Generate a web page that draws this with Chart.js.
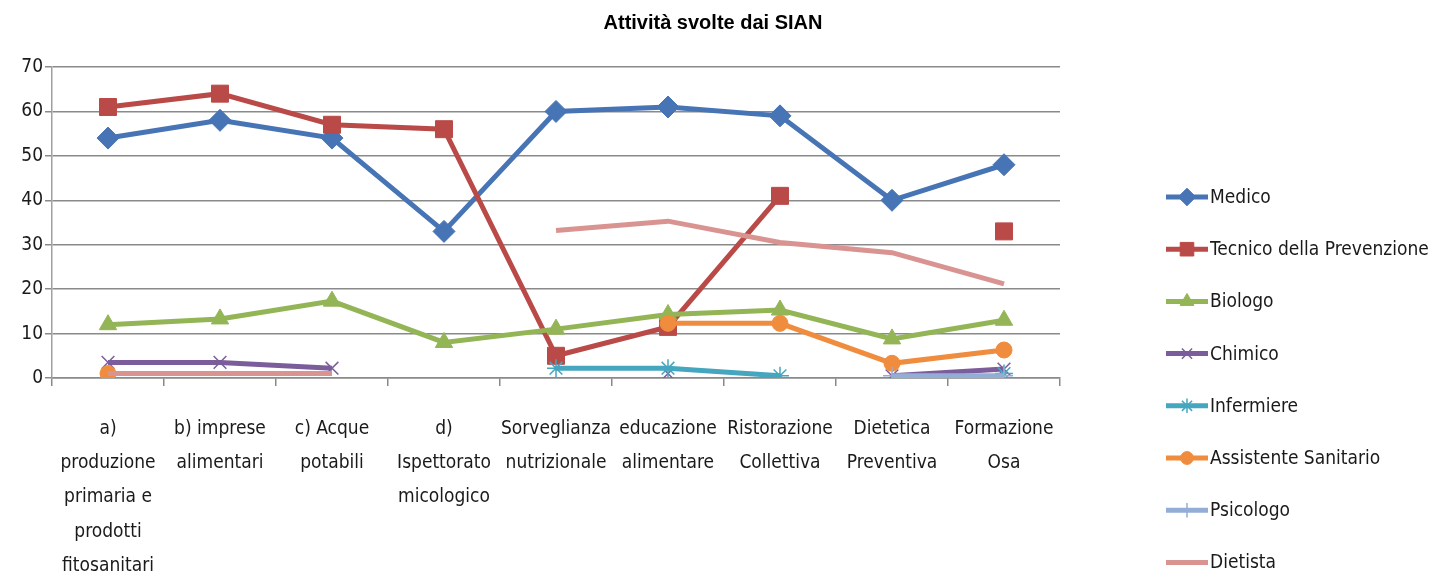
<!DOCTYPE html>
<html>
<head>
<meta charset="utf-8">
<script src="https://cdn.jsdelivr.net/npm/chart.js@4.4.0/dist/chart.umd.min.js"></script>
<style>
  body { margin: 0; background: #fff; }
  canvas { display: block; }
</style>
</head>
<body>
<canvas id="chartCanvas" width="1446" height="575"></canvas>
<script>
// categorie (etichette asse x, già spezzate su più righe)
const categorie = [
  ['a)', 'produzione', 'primaria e', 'prodotti', 'fitosanitari'],
  ['b) imprese', 'alimentari'],
  ['c) Acque', 'potabili'],
  ['d)', 'Ispettorato', 'micologico'],
  ['Sorveglianza', 'nutrizionale'],
  ['educazione', 'alimentare'],
  ['Ristorazione', 'Collettiva'],
  ['Dietetica', 'Preventiva'],
  ['Formazione', 'Osa']
];

const medico      = [54, 58, 54, 33, 60, 61, 59, 40, 48];
const tecnico     = [61, 64, 57, 56, 5, 11.5, 41, null, 33];
const biologo     = [12, 13.3, 17.3, 8, 11, 14.3, 15.3, 8.8, 13];
const chimico     = [3.5, 3.5, 2.2, null, null, 1, null, 0.5, 2];
const infermiere  = [null, null, null, null, 2.2, 2.2, 0.5, null, 1];
const assistente  = [1, null, null, null, null, 12.3, 12.3, 3.3, 6.3];
const psicologo   = [null, null, null, null, null, null, null, 0.5, 0.5];
const dietista    = [1, 1, 1, null, 33.2, 35.3, 30.5, 28.2, 21.2];

const yTicks = [0, 10, 20, 30, 40, 50, 60, 70];

const FONT = '"Liberation Sans Narrow", "DejaVu Sans Condensed", "Open Sans", sans-serif';

const serie = [
  { label: 'Medico', data: medico, color: '#4774B5', style: 'rectRot', r: 11, bw: 1 },
  { label: 'Tecnico della Prevenzione', data: tecnico, color: '#BA4A47', style: 'rect', r: 12, bw: 1 },
  { label: 'Biologo', data: biologo, color: '#93B556', style: 'triangle', r: 10, bw: 1 },
  { label: 'Chimico', data: chimico, color: '#7B5D9C', style: 'crossRot', r: 9, bw: 1.5 },
  { label: 'Infermiere', data: infermiere, color: '#45A6BF', style: 'star', r: 9, bw: 1.5 },
  { label: 'Assistente Sanitario', data: assistente, color: '#F08C3E', style: 'circle', r: 8, bw: 1 },
  { label: 'Psicologo', data: psicologo, color: '#93AED6', style: 'cross', r: 9, bw: 1.5 },
  { label: 'Dietista', data: dietista, color: '#D99492', style: false, r: 0, bw: 0 }
];

// titolo + legenda disegnati a mano (linea + marcatore come in Excel)
const titoloLegenda = {
  id: 'titoloLegenda',
  afterDraw(chart) {
    const ctx = chart.ctx;
    ctx.save();
    ctx.fillStyle = '#000';
    ctx.font = 'bold 20px "Liberation Sans", Arial, sans-serif';
    ctx.textAlign = 'center';
    ctx.textBaseline = 'middle';
    ctx.fillText('Attività svolte dai SIAN', 713, 23);

    serie.forEach((s, i) => {
      const y = 197 + i * 52.2;
      ctx.strokeStyle = s.color;
      ctx.lineWidth = 5;
      ctx.beginPath();
      ctx.moveTo(1166, y);
      ctx.lineTo(1208, y);
      ctx.stroke();
      if (s.style) {
        ctx.fillStyle = s.color;
        ctx.strokeStyle = s.color;
        ctx.lineWidth = s.bw;
        Chart.helpers.drawPoint(ctx, { pointStyle: s.style, radius: s.r * 0.8, borderWidth: s.bw, rotation: 0 }, 1187, y);
      }
      ctx.fillStyle = '#1a1a1a';
      ctx.font = '19px ' + FONT;
      ctx.textAlign = 'left';
      ctx.fillText(s.label, 1210, y + 1);
    });
    ctx.restore();
  }
};

const ctx = document.getElementById('chartCanvas').getContext('2d');

new Chart(ctx, {
  type: 'line',
  data: {
    labels: categorie,
    datasets: serie.map((s, i) => ({
      label: s.label,
      data: s.data,
      borderColor: s.color,
      backgroundColor: s.color,
      pointBackgroundColor: s.color,
      pointBorderColor: s.color,
      borderWidth: 5,
      pointStyle: s.style,
      pointRadius: s.r,
      pointBorderWidth: s.bw,
      spanGaps: false,
      fill: false,
      tension: 0,
      order: serie.length - i
    }))
  },
  options: {
    responsive: false,
    animation: false,
    layout: { padding: { top: 67, right: 386, left: 0, bottom: 0 } },
    plugins: {
      legend: { display: false },
      title: { display: false },
      tooltip: { enabled: false }
    },
    scales: {
      x: {
        offset: true,
        afterFit: (scale) => { scale.height = 197; },
        grid: {
          display: true,
          offset: true,
          drawOnChartArea: false,
          drawTicks: true,
          tickLength: 8,
          color: '#8a8a8a',
          lineWidth: 1.5
        },
        border: { display: true, color: '#8a8a8a', width: 1.5 },
        ticks: {
          autoSkip: false,
          maxRotation: 0,
          minRotation: 0,
          padding: 26,
          color: '#1a1a1a',
          font: { family: FONT, size: 19, lineHeight: 1.8 }
        }
      },
      y: {
        min: 0,
        max: 70,
        afterFit: (scale) => { scale.width = 52; },
        afterBuildTicks: (scale) => { scale.ticks = yTicks.map(v => ({ value: v })); },
        grid: {
          color: '#8a8a8a',
          lineWidth: 1.5,
          drawTicks: true,
          tickLength: 7
        },
        border: { display: true, color: '#a0a0a0', width: 1.5 },
        ticks: {
          padding: 2,
          color: '#1a1a1a',
          font: { family: FONT, size: 19 }
        }
      }
    }
  },
  plugins: [titoloLegenda]
});
</script>
</body>
</html>
